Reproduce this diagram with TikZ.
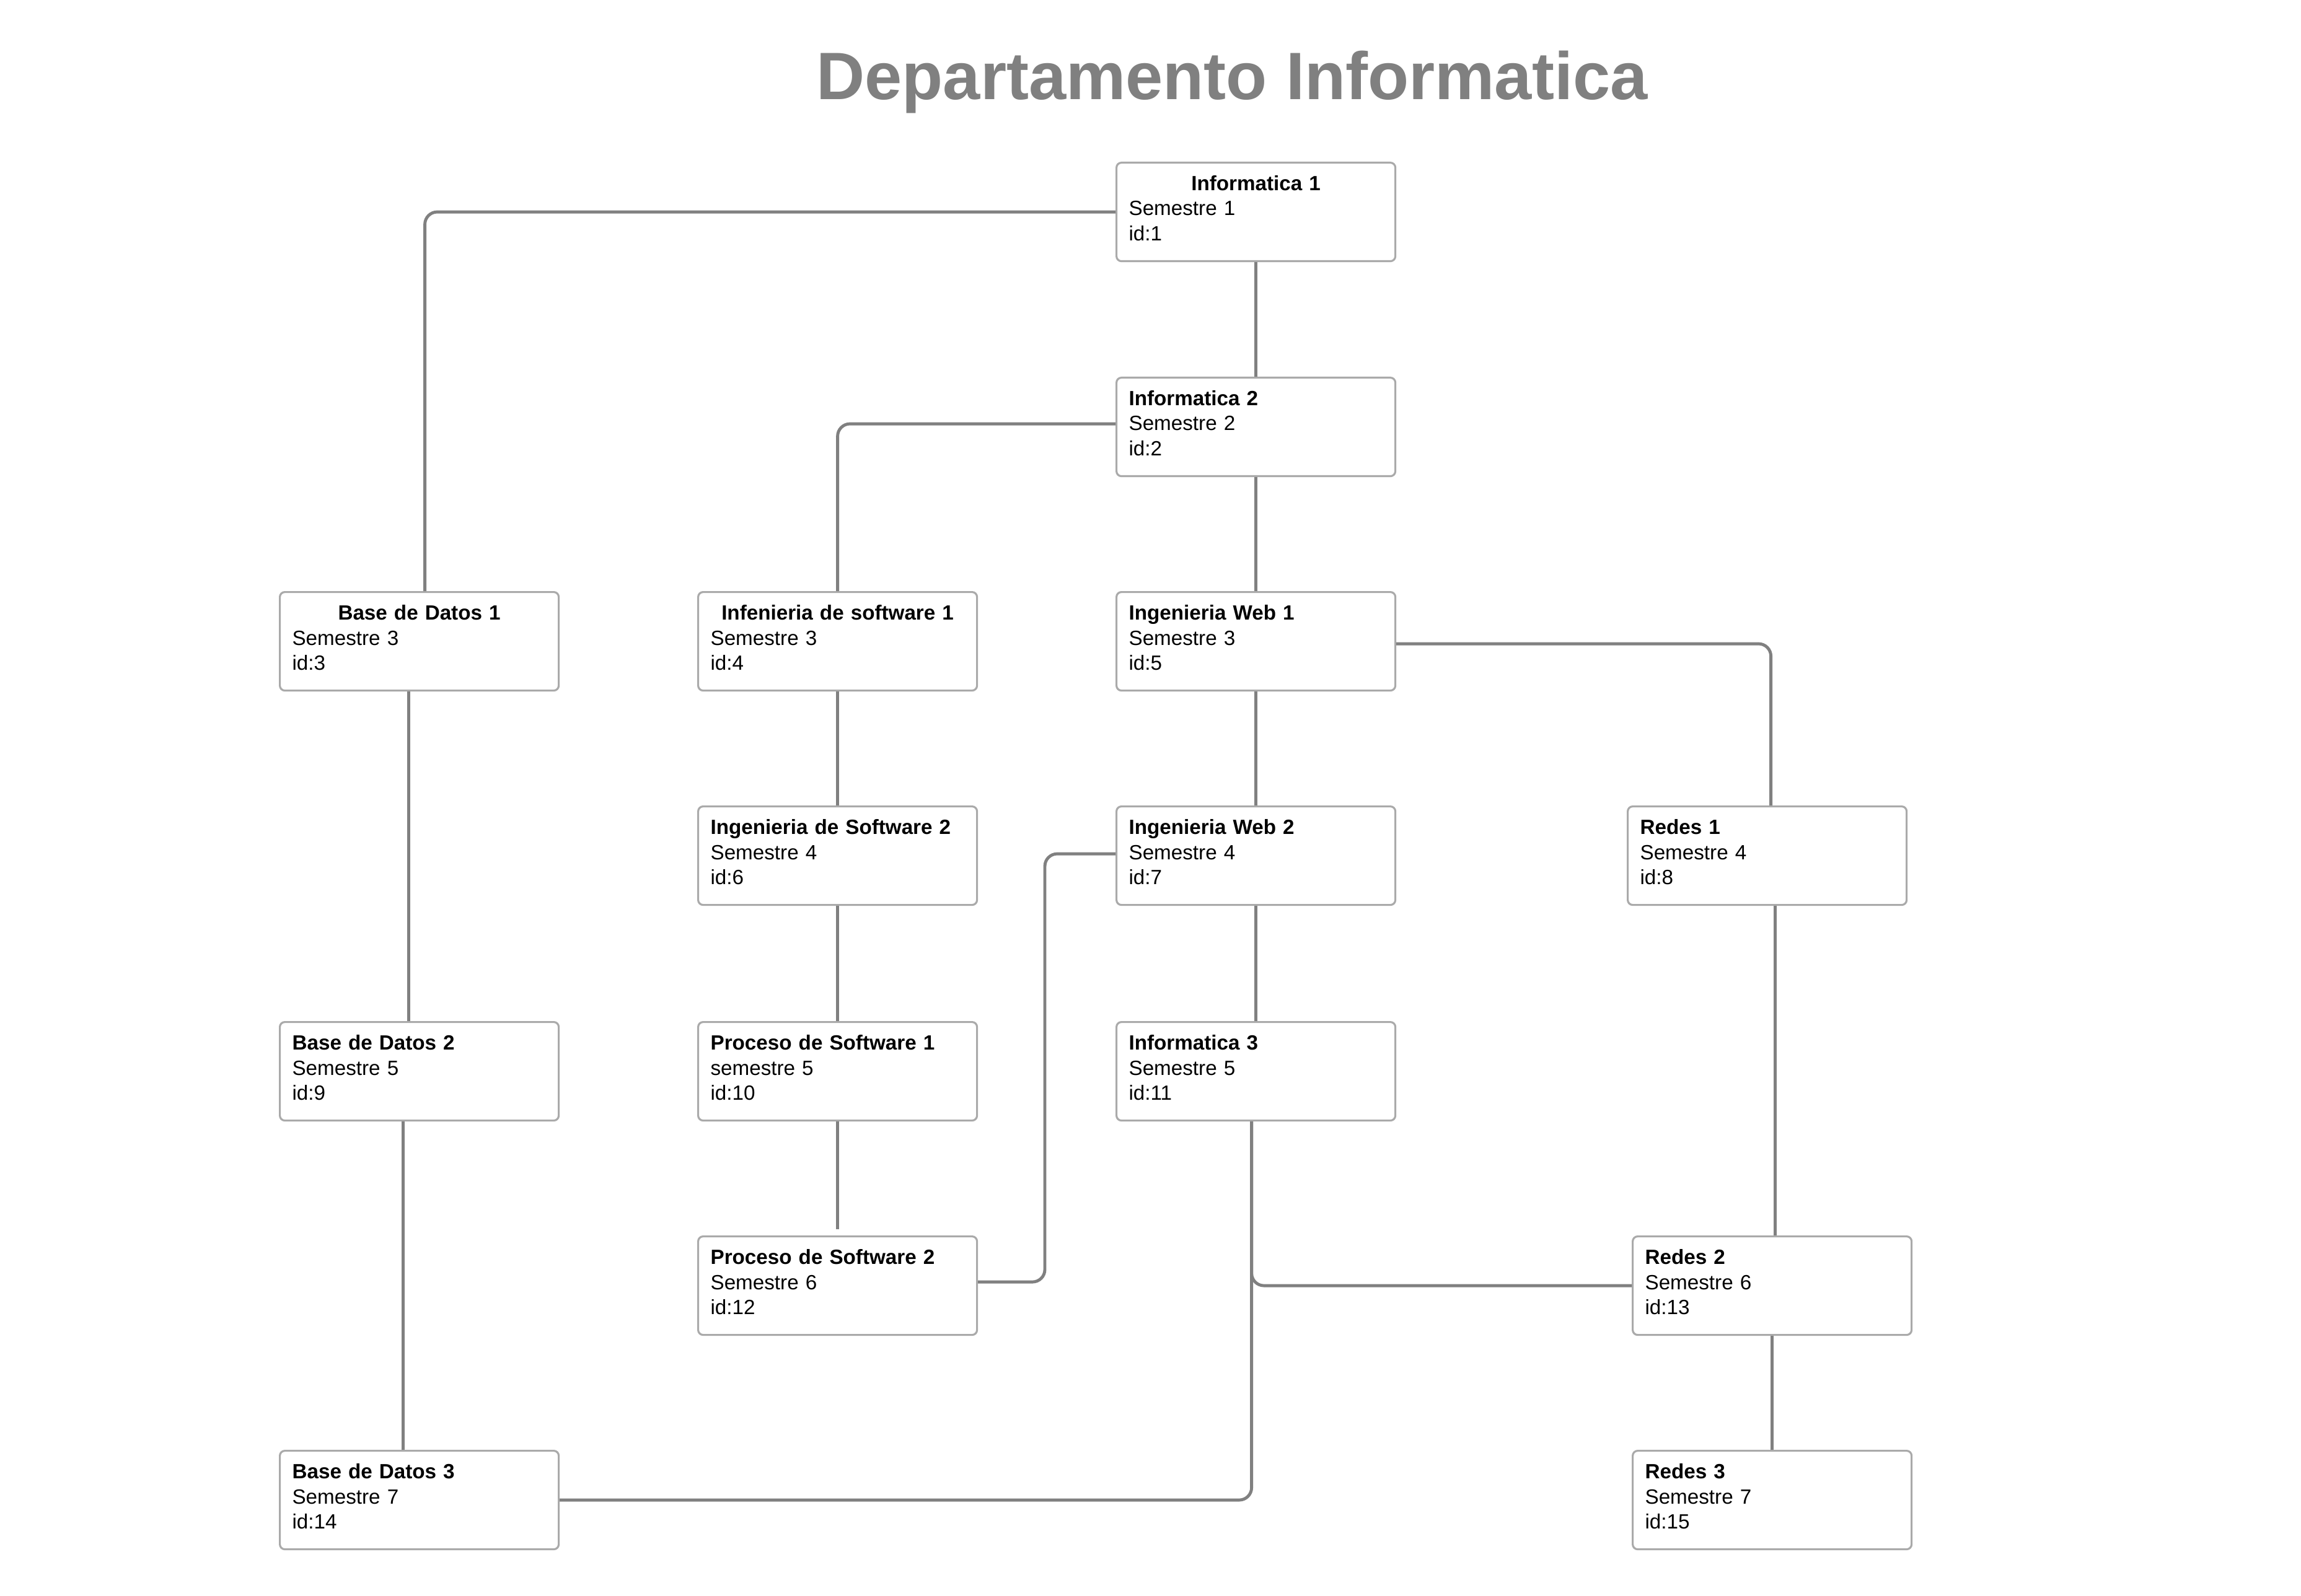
\documentclass[tikz,border=0pt]{standalone}
\usepackage{fontspec}
\setmainfont{Liberation Sans}
\usepackage{xcolor}
\definecolor{lineagris}{RGB}{128,128,128}
\definecolor{bordegris}{RGB}{170,170,170}

\begin{document}
\begin{tikzpicture}[
  curso/.style={draw=bordegris, line width=0.9pt, rounded corners=0.08cm, fill=white,
    anchor=north west, text width=4.1cm, inner xsep=0.2cm, inner ysep=0.21cm,
    text height=0.24cm, text depth=0.93cm, align=left,
    font=\fontsize{9.45pt}{11.5pt}\selectfont},
  conector/.style={draw=lineagris, line width=1.4pt, rounded corners=0.2cm}
]
  \useasboundingbox (0, 0) rectangle (37.13, -25.76);

  % Title
  \node[anchor=base, text=lineagris, font=\fontsize{30.8pt}{36pt}\selectfont\bfseries]
    (titulo) at (19.88, -1.61) {Departamento Informatica};

  % Semestres 1 y 2
  \node[curso] (inf1) at (18.00, -2.61)
    {\makebox[\linewidth]{\textbf{Informatica 1}}\\Semestre 1\\id:1};
  \node[curso] (inf2) at (18.00, -6.08)
    {\textbf{Informatica 2}\\Semestre 2\\id:2};

  % Semestre 3
  \node[curso] (bd1) at (4.50, -9.54)
    {\makebox[\linewidth]{\textbf{Base de Datos 1}}\\Semestre 3\\id:3};
  \node[curso] (is1) at (11.25, -9.54)
    {\makebox[\linewidth]{\textbf{Infenieria de software 1}}\\Semestre 3\\id:4};
  \node[curso] (iw1) at (18.00, -9.54)
    {\textbf{Ingenieria Web 1}\\Semestre 3\\id:5};

  % Semestre 4
  \node[curso] (is2) at (11.25, -13.00)
    {\textbf{Ingenieria de Software 2}\\Semestre 4\\id:6};
  \node[curso] (iw2) at (18.00, -13.00)
    {\textbf{Ingenieria Web 2}\\Semestre 4\\id:7};
  \node[curso] (redes1) at (26.25, -13.00)
    {\textbf{Redes 1}\\Semestre 4\\id:8};

  % Semestre 5
  \node[curso] (bd2) at (4.50, -16.48)
    {\textbf{Base de Datos 2}\\Semestre 5\\id:9};
  \node[curso] (ps1) at (11.25, -16.48)
    {\textbf{Proceso de Software 1}\\semestre 5\\id:10};
  \node[curso] (inf3) at (18.00, -16.48)
    {\textbf{Informatica 3}\\Semestre 5\\id:11};

  % Semestre 6
  \node[curso] (ps2) at (11.25, -19.94)
    {\textbf{Proceso de Software 2}\\Semestre 6\\id:12};
  \node[curso] (redes2) at (26.33, -19.94)
    {\textbf{Redes 2}\\Semestre 6\\id:13};

  % Semestre 7
  \node[curso] (bd3) at (4.50, -23.40)
    {\textbf{Base de Datos 3}\\Semestre 7\\id:14};
  \node[curso] (redes3) at (26.33, -23.40)
    {\textbf{Redes 3}\\Semestre 7\\id:15};

  % Connectors
  \draw[conector] (inf1.west) -| ([xshift=0.09cm]bd1.north);
  \draw[conector] (inf1.south) -- (inf2.north);
  \draw[conector] ([yshift=0.05cm]inf2.west) -| (is1.north);
  \draw[conector] (inf2.south) -- (iw1.north);
  \draw[conector] ([yshift=-0.04cm]iw1.east) -| ([xshift=0.06cm]redes1.north);
  \draw[conector] ([xshift=-0.17cm]bd1.south) -- ([xshift=-0.17cm]bd2.north);
  \draw[conector] (is1.south) -- (is2.north);
  \draw[conector] (iw1.south) -- (iw2.north);
  \draw[conector] (is2.south) -- (ps1.north);
  \draw[conector] (iw2.south) -- (inf3.north);
  \draw[conector] ([xshift=0.13cm]redes1.south) -- ([xshift=0.05cm]redes2.north);
  \draw[conector] ([yshift=0.03cm]iw2.west) -- ++(-1.14, 0) |- ([yshift=0.06cm]ps2.east);
  \draw[conector] ([xshift=-0.26cm]bd2.south) -- ([xshift=-0.26cm]bd3.north);
  \draw[conector] (ps1.south) -- ([yshift=0.1cm]ps2.north);
  \draw[conector] ([xshift=-0.07cm]inf3.south) |- (bd3.east);
  \draw[conector] ([xshift=-0.07cm]inf3.south) |- (redes2.west);
  \draw[conector] (redes2.south) -- (redes3.north);
\end{tikzpicture}
\end{document}
